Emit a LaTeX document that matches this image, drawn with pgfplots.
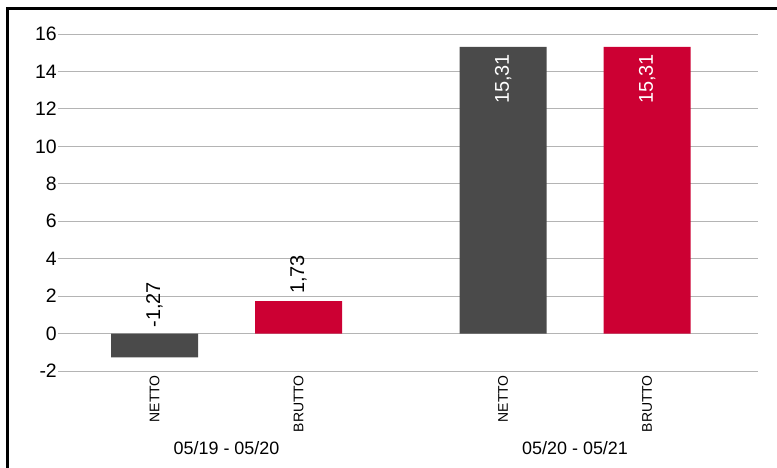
\documentclass[border=0pt]{standalone}
\usepackage{pgfplots}
\pgfplotsset{compat=1.18}
\usepackage{fontspec}
\setmainfont{Liberation Sans}
\definecolor{netto}{HTML}{4A4A4A}
\definecolor{brutto}{HTML}{CC0033}
\definecolor{gridc}{HTML}{B4B4B4}
\begin{document}
\begin{tikzpicture}[x=1bp,y=1bp]
\begin{axis}[
  at={(58bp,97bp)}, anchor=south west,
  width=700bp, height=337bp, scale only axis,
  xmin=-0.67, xmax=4.19, ymin=-2, ymax=16,
  ytick={-2,0,...,16},
  axis line style={draw=none},
  clip=false,
  ymajorgrids, grid style={gridc, line width=0.9bp},
  major tick length=0pt,
  /pgf/number format/assume math mode=true,
  yticklabel style={font=\fontsize{19.5}{22}\selectfont, inner sep=1bp, anchor=east},
  xtick={0,1,2.42,3.42},
  xticklabels={NETTO,BRUTTO,NETTO,BRUTTO},
  xticklabel style={font=\fontsize{14}{16}\selectfont, rotate=90, anchor=east, inner xsep=4bp},
  bar width=0.604,
]
\addplot[ybar, bar shift=0pt, fill=netto, draw=none] coordinates {(0,-1.27) (2.42,15.31)};
\addplot[ybar, bar shift=0pt, fill=brutto, draw=none] coordinates {(1,1.73) (3.42,15.31)};
\begin{scope}[every node/.style={font=\fontsize{20}{23}\selectfont, rotate=90, inner ysep=0pt}]
\node[anchor=west, inner xsep=6bp] at (axis cs:0,0) {-1,27};
\node[anchor=west, inner xsep=7bp] at (axis cs:1,1.73) {1,73};
\node[anchor=east, inner xsep=7bp, text=white] at (axis cs:2.42,15.31) {15,31};
\node[anchor=east, inner xsep=7bp, text=white] at (axis cs:3.42,15.31) {15,31};
\end{scope}
\node[font=\fontsize{18}{21}\selectfont] at ([yshift=-77bp]axis cs:0.5,-2) {05/19 - 05/20};
\node[font=\fontsize{18}{21}\selectfont] at ([yshift=-77bp]axis cs:2.92,-2) {05/20 - 05/21};
\end{axis}
\draw[line width=2.5bp] (7.5bp,-20bp) rectangle (800bp,459.7bp);
\pgfresetboundingbox
\useasboundingbox (0,0) rectangle (777bp,468bp);
\end{tikzpicture}
\end{document}
